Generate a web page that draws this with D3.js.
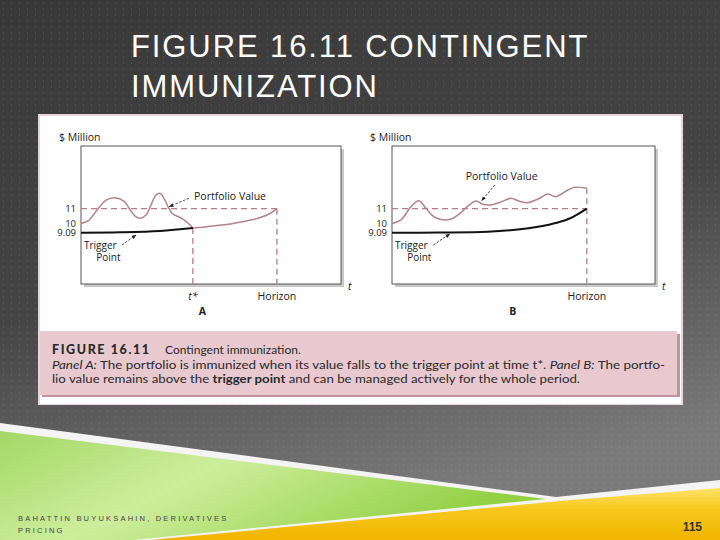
<!DOCTYPE html>
<html>
<head>
<meta charset="utf-8">
<script src="https://cdn.jsdelivr.net/npm/d3@7/dist/d3.min.js"></script>
<style>
  body { margin: 0; background: #3b3b3b; }
  svg { display: block; }
</style>
</head>
<body>
<div id="slide"></div>
<script>
// ---- data (t: horizon = 1, value in $ million) ----
var yTicks = [11, 10, 9.09];
var yTickLabels = ["11", "10", "9.09"];
var tStar = 0.571;
var target = 11;

var portfolioA_t = [0, 0.036, 0.082, 0.128, 0.173, 0.219, 0.255, 0.281, 0.301, 0.332, 0.357, 0.383, 0.403, 0.423, 0.449, 0.469, 0.495, 0.520, 0.546, 0.571];
var portfolioA_v = [10.0, 10.17, 10.91, 11.69, 11.88, 11.61, 10.84, 10.44, 10.35, 10.57, 11.29, 12.09, 12.23, 11.85, 11.01, 10.64, 10.47, 10.30, 10.03, 9.55];
var triggerA_t = [0, 0.2, 0.403, 0.571];
var triggerA_v = [9.09, 9.13, 9.26, 9.55];
var immunizedA_t = [0.571, 0.65, 0.75, 0.83, 0.903, 0.96, 1.0];
var immunizedA_v = [9.55, 9.70, 9.92, 10.14, 10.35, 10.64, 11.0];

var portfolioB_t = [0, 0.046, 0.097, 0.138, 0.174, 0.210, 0.246, 0.303, 0.349, 0.390, 0.431, 0.467, 0.508, 0.559, 0.610, 0.651, 0.697, 0.749, 0.800, 0.841, 0.903, 0.938, 1.0];
var portfolioB_v = [10.0, 10.24, 11.16, 11.64, 11.03, 10.51, 10.28, 10.30, 10.69, 11.22, 11.61, 11.35, 11.30, 11.53, 11.83, 11.61, 11.48, 11.77, 12.17, 11.96, 12.49, 12.71, 12.63];
var triggerB_t = [0, 0.246, 0.492, 0.646, 0.749, 0.851, 0.918, 1.0];
var triggerB_v = [9.09, 9.11, 9.19, 9.41, 9.68, 10.07, 10.37, 11.0];

var captionTitle = "FIGURE 16.11";
var captionSub = "Contingent immunization.";

var W = 720, H = 540;
var svg = d3.select("#slide").append("svg").attr("width", W).attr("height", H);
var defs = svg.append("defs");

// background gradient + dot texture
var bg = defs.append("linearGradient").attr("id", "bg").attr("x1", 0).attr("y1", 0).attr("x2", 0.3).attr("y2", 1);
bg.append("stop").attr("offset", "0%").attr("stop-color", "#383838");
bg.append("stop").attr("offset", "55%").attr("stop-color", "#454545");
bg.append("stop").attr("offset", "100%").attr("stop-color", "#7a7a7a");
var pat = defs.append("pattern").attr("id", "dots").attr("width", 8).attr("height", 6).attr("patternUnits", "userSpaceOnUse");
pat.append("rect").attr("x", 3).attr("y", 2).attr("width", 1).attr("height", 2).attr("fill", "rgba(255,255,255,0.09)");

svg.append("rect").attr("width", W).attr("height", H).attr("fill", "url(#bg)");
svg.append("rect").attr("width", W).attr("height", H).attr("fill", "url(#dots)");

// footer shapes
var gr = defs.append("linearGradient").attr("id", "green").attr("x1", 0).attr("y1", 0).attr("x2", 1).attr("y2", 0.4);
gr.append("stop").attr("offset", "0%").attr("stop-color", "#a3d865");
gr.append("stop").attr("offset", "45%").attr("stop-color", "#cdee9c");
gr.append("stop").attr("offset", "100%").attr("stop-color", "#92d044");
var ye = defs.append("linearGradient").attr("id", "yellow").attr("x1", 0).attr("y1", 0).attr("x2", 0).attr("y2", 1);
ye.append("stop").attr("offset", "0%").attr("stop-color", "#fde36a");
ye.append("stop").attr("offset", "40%").attr("stop-color", "#f8c81c");
ye.append("stop").attr("offset", "100%").attr("stop-color", "#f0b400");

svg.append("path").attr("d", "M0,423 L556,497 L720,480 L720,540 L0,540 Z").attr("fill", "#f4f4f4");
svg.append("path").attr("d", "M0,431 L546,499 L133,540 L0,540 Z").attr("fill", "url(#green)");
svg.append("path").attr("d", "M150,540 L570,500 L720,488 L720,540 Z").attr("fill", "url(#yellow)");

svg.append("text").attr("x", 18).attr("y", 521).attr("font-family", "Liberation Sans, Arial, sans-serif")
  .attr("font-size", 7.5).attr("letter-spacing", 2.2).attr("fill", "#444").text("BAHATTIN BUYUKSAHIN, DERIVATIVES");
svg.append("text").attr("x", 18).attr("y", 533).attr("font-family", "Liberation Sans, Arial, sans-serif")
  .attr("font-size", 7.5).attr("letter-spacing", 2.2).attr("fill", "#444").text("PRICING");
svg.append("text").attr("x", 702).attr("y", 531).attr("text-anchor", "end").attr("font-family", "Liberation Sans Narrow, Liberation Sans, sans-serif")
  .attr("font-size", 12).attr("font-weight", "bold").attr("fill", "#333").text("115");

// slide title
var title = svg.append("text").attr("font-family", "Liberation Sans, Arial, sans-serif").attr("font-size", 31)
  .attr("letter-spacing", 1.9).attr("fill", "#fff");
title.append("tspan").attr("x", 131).attr("y", 57).text("FIGURE 16.11 CONTINGENT");
title.append("tspan").attr("x", 131).attr("y", 97).text("IMMUNIZATION");

// picture box
svg.append("rect").attr("x", 38).attr("y", 114).attr("width", 645).attr("height", 291).attr("fill", "#ead4d9");
svg.append("rect").attr("x", 40).attr("y", 116).attr("width", 641).attr("height", 288).attr("fill", "#fff");
svg.append("rect").attr("x", 42).attr("y", 334).attr("width", 638).attr("height", 63).attr("fill", "#c4919c");
svg.append("rect").attr("x", 40).attr("y", 331).attr("width", 637).attr("height", 64).attr("fill", "#e8c9d0");

var cap = svg.append("text").attr("font-family", "Lato, Open Sans, sans-serif").attr("font-size", 12).attr("fill", "#2a2a2a");
cap.append("tspan").attr("x", 52).attr("y", 354).attr("font-weight", "900").attr("letter-spacing", 1.6).attr("font-size", 12.5).text(captionTitle);
cap.append("tspan").attr("x", 165).attr("y", 354).text(captionSub);
var l2 = svg.append("text").attr("x", 52).attr("y", 369).attr("font-family", "Lato, Open Sans, sans-serif").attr("font-size", 12)
  .attr("fill", "#2a2a2a").attr("textLength", 613).attr("lengthAdjust", "spacingAndGlyphs");
l2.append("tspan").attr("font-style", "italic").text("Panel A:");
l2.append("tspan").text(" The portfolio is immunized when its value falls to the trigger point at time t*. ");
l2.append("tspan").attr("font-style", "italic").text("Panel B:");
l2.append("tspan").text(" The portfo-");
var l3 = svg.append("text").attr("x", 52).attr("y", 383).attr("font-family", "Lato, Open Sans, sans-serif").attr("font-size", 12)
  .attr("fill", "#2a2a2a").attr("textLength", 528).attr("lengthAdjust", "spacingAndGlyphs");
l3.append("tspan").text("lio value remains above the ");
l3.append("tspan").attr("font-weight", "bold").text("trigger point");
l3.append("tspan").text(" and can be managed actively for the whole period.");

// arrow marker
defs.append("marker").attr("id", "arr").attr("viewBox", "0 0 10 10").attr("refX", 9).attr("refY", 5)
  .attr("markerWidth", 6).attr("markerHeight", 6).attr("orient", "auto")
  .append("path").attr("d", "M0,1 L10,5 L0,9 Z").attr("fill", "#222");

var y = d3.scaleLinear().domain([5, 9.09, 10, 11, 16]).range([284, 232.7, 223.5, 208.7, 146]);
var font = "Open Sans, Noto Sans, sans-serif";
var pink = "#b3828a", dash = "#b97a86";

function zip(ts, vs) { return ts.map(function(t, i) { return [t, vs[i]]; }); }

function panel(cfg) {
  var x = d3.scaleLinear().domain([0, cfg.tMax]).range([cfg.left, cfg.right]);
  var g = svg.append("g");
  var line = d3.line().x(function(d) { return x(d[0]); }).y(function(d) { return y(d[1]); }).curve(d3.curveCatmullRom.alpha(0.5));

  // frame with shadow
  g.append("rect").attr("x", x(0) + 3).attr("y", y(16) + 3).attr("width", x(cfg.tMax) - x(0)).attr("height", y(5) - y(16))
    .attr("fill", "#c9c9c9");
  g.append("rect").attr("x", x(0)).attr("y", y(16)).attr("width", x(cfg.tMax) - x(0)).attr("height", y(5) - y(16))
    .attr("fill", "#fff").attr("stroke", "#555").attr("stroke-width", 1);

  // dashed guides
  g.append("line").attr("x1", x(0)).attr("x2", x(1)).attr("y1", y(target)).attr("y2", y(target))
    .attr("stroke", dash).attr("stroke-width", 1.3).attr("stroke-dasharray", "6,4");
  cfg.verticals.forEach(function(d) {
    g.append("line").attr("x1", x(d[0])).attr("x2", x(d[0])).attr("y1", y(d[1])).attr("y2", y(5))
      .attr("stroke", dash).attr("stroke-width", 1.3).attr("stroke-dasharray", "6,4");
  });

  // curves
  g.append("path").attr("d", line(cfg.portfolio)).attr("fill", "none").attr("stroke", pink).attr("stroke-width", 1.5);
  if (cfg.immunized) g.append("path").attr("d", line(cfg.immunized)).attr("fill", "none").attr("stroke", pink).attr("stroke-width", 1.5);
  g.append("path").attr("d", line(cfg.trigger)).attr("fill", "none").attr("stroke", "#111").attr("stroke-width", 2);

  // axis labels
  g.selectAll(".tick").data(yTicks).enter().append("text")
    .attr("x", x(0) - 5).attr("y", function(d) { return y(d); }).attr("dy", "0.33em")
    .attr("text-anchor", "end").attr("font-family", font).attr("font-size", 9.5).attr("fill", "#222")
    .text(function(d, i) { return yTickLabels[i]; });
  g.append("text").attr("x", x(0) - 22).attr("y", y(16) - 5).attr("font-family", font).attr("font-size", 10.5).attr("fill", "#222").text("$ Million");
  g.append("text").attr("x", x(cfg.tMax) + 7).attr("y", y(5) + 6).attr("font-family", font).attr("font-style", "italic")
    .attr("font-size", 10.5).attr("fill", "#222").text("t");
  cfg.xLabels.forEach(function(d) {
    g.append("text").attr("x", x(d[0])).attr("y", y(5) + 16).attr("text-anchor", "middle").attr("font-family", font)
      .attr("font-size", 10.5).attr("font-style", d[2] ? "italic" : null).attr("fill", "#222").text(d[1]);
  });
  g.append("text").attr("x", x(0.62)).attr("y", y(5) + 31).attr("text-anchor", "middle").attr("font-family", font)
    .attr("font-weight", "bold").attr("font-size", 10.5).attr("fill", "#222").text(cfg.name);

  // annotations
  g.append("text").attr("x", x(cfg.pvLabel[0])).attr("y", y(cfg.pvLabel[1])).attr("dy", "0.35em").attr("text-anchor", cfg.pvLabel[2])
    .attr("font-family", font).attr("font-size", 10.5).attr("fill", "#222").text("Portfolio Value");
  g.append("text").attr("x", x(0.015)).attr("y", y(8.1)).attr("dy", "0.35em").attr("font-family", font).attr("font-size", 10).attr("fill", "#222").text("Trigger");
  g.append("text").attr("x", x(0.14)).attr("y", y(7.1)).attr("dy", "0.35em").attr("text-anchor", "middle").attr("font-family", font).attr("font-size", 10).attr("fill", "#222").text("Point");
  cfg.arrows.forEach(function(a) {
    g.append("line").attr("x1", x(a[0])).attr("y1", y(a[1])).attr("x2", x(a[2])).attr("y2", y(a[3]))
      .attr("stroke", "#222").attr("stroke-width", 0.8).attr("stroke-dasharray", "2.5,1.5").attr("marker-end", "url(#arr)");
  });
}

panel({
  name: "A", left: 81, right: 341, tMax: 1.327,
  portfolio: zip(portfolioA_t, portfolioA_v),
  trigger: zip(triggerA_t, triggerA_v),
  immunized: zip(immunizedA_t, immunizedA_v),
  verticals: [[tStar, triggerA_v[triggerA_v.length - 1]], [1, target]],
  xLabels: [[tStar, "t*", true], [1, "Horizon", false]],
  pvLabel: [0.577, 12.0, "start"],
  arrows: [[0.551, 11.83, 0.45, 11.16], [0.209, 8.11, 0.281, 8.91]]
});

panel({
  name: "B", left: 392, right: 655, tMax: 1.35,
  portfolio: zip(portfolioB_t, portfolioB_v),
  trigger: zip(triggerB_t, triggerB_v),
  immunized: null,
  verticals: [[1, portfolioB_v[portfolioB_v.length - 1]]],
  xLabels: [[1, "Horizon", false]],
  pvLabel: [0.563, 13.55, "middle"],
  arrows: [[0.528, 12.89, 0.46, 11.64], [0.212, 8.11, 0.297, 8.99]]
});
</script>
</body>
</html>
